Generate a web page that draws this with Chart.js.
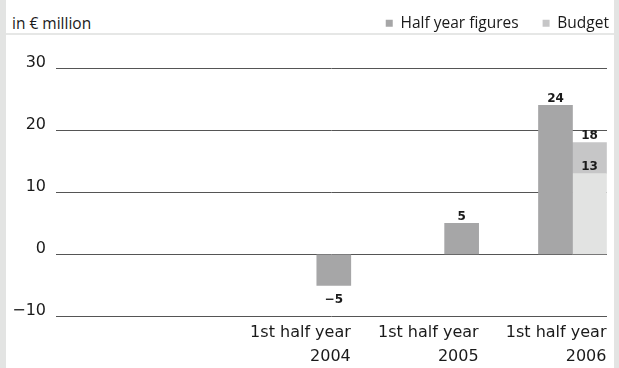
<!DOCTYPE html>
<html>
<head>
<meta charset="utf-8">
<title>Half year figures</title>
<script src="https://cdn.jsdelivr.net/npm/chart.js@4/dist/chart.umd.min.js"></script>
<style>
  body { margin: 0; background: #fff; }
  #frame { position: relative; width: 619px; height: 368px; background: #fff; overflow: hidden; }
  .strip { position: absolute; top: 0; bottom: 0; background: #e3e4e3; }
  #rule { position: absolute; left: 6px; right: 5px; top: 33px; height: 2px; background: #e6e7e6; }
  #unit { position: absolute; left: 12px; top: 12px; line-height: 20px;
          font: 15.5px "Open Sans", sans-serif; color: #1a1a1a; }
  canvas { position: absolute; left: 0; top: 0; }
</style>
</head>
<body>
<div id="frame">
  <div class="strip" style="left:0;width:6px"></div>
  <div class="strip" style="right:0;width:5px"></div>
  <div id="rule"></div>
  <div id="unit">in € million</div>
  <canvas id="halfYearChart" width="619" height="368"></canvas>
</div>
<script>
var categories = [['1st half year', '2004'], ['1st half year', '2005'], ['1st half year', '2006']];
var halfYear = [-5, 5, 24];
var budgetTotal = [null, null, 18];
var budgetBase = [null, null, 13];
var yTicks = [-10, 0, 10, 20, 30];

var barWidth = 34;
var textColor = '#1a1a1a';

function fmt(v) {
    return v < 0 ? '\u2212' + Math.abs(v) : String(v);
}
function points(values) {
    return values.map(function(v, i) { return { x: i, y: v }; });
}

// years with a budget get the actual bar on the left, the others sit in the budget slot
var actualLeft = halfYear.map(function(v, i) { return budgetTotal[i] != null ? v : null; });
var actualRight = halfYear.map(function(v, i) { return budgetTotal[i] == null ? v : null; });
var budgetTop = budgetTotal.map(function(v, i) { return v == null ? null : v - budgetBase[i]; });

// numbers printed at the end of each bar segment
var valueLabels = {
    id: 'valueLabels',
    afterDatasetsDraw: function(chart) {
        var ctx = chart.ctx;
        ctx.save();
        ctx.font = 'bold 12px "DejaVu Sans"';
        ctx.fillStyle = textColor;
        ctx.textAlign = 'center';
        ctx.textBaseline = 'alphabetic';
        chart.data.datasets.forEach(function(ds, di) {
            chart.getDatasetMeta(di).data.forEach(function(bar, i) {
                var v = ds.valueLabels[i];
                if (v == null) return;
                ctx.fillText(fmt(v), bar.x, v < 0 ? bar.y + 17.5 : bar.y - 3.5);
            });
        });
        ctx.restore();
    }
};

// move the legend row up into the header band, flush right
var legendInHeader = {
    id: 'legendInHeader',
    afterLayout: function(chart) {
        var lg = chart.legend;
        var pad = lg.options.labels.padding;
        var dx = (chart.width - 10 + pad) - lg.right;
        var dy = 15.5 - pad - lg.top;
        lg.left += dx; lg.right += dx;
        lg.top += dy; lg.bottom += dy;
    }
};

document.addEventListener('DOMContentLoaded', function() {
    Chart.defaults.font.family = '"DejaVu Sans"';
    Chart.defaults.color = textColor;

    var ctx = document.getElementById('halfYearChart').getContext('2d');
    var halfYearChart = new Chart(ctx, {
        type: 'bar',
        data: {
            datasets: [{
                    label: 'Half year figures',
                    data: points(actualLeft),
                    valueLabels: actualLeft,
                    backgroundColor: '#a6a6a7',
                    stack: 'actual'
                },
                {
                    label: 'Half year figures',
                    data: points(actualRight),
                    valueLabels: actualRight,
                    backgroundColor: '#a6a6a7',
                    stack: 'plan',
                    inLegend: false
                },
                {
                    label: 'Budget base',
                    data: points(budgetBase),
                    valueLabels: budgetBase,
                    backgroundColor: '#e2e3e2',
                    stack: 'plan',
                    inLegend: false
                },
                {
                    label: 'Budget',
                    data: points(budgetTop),
                    valueLabels: budgetTotal,
                    backgroundColor: '#c6c6c7',
                    stack: 'plan'
                }
            ]
        },
        options: {
            responsive: false,
            animation: false,
            barThickness: barWidth,
            layout: { padding: { left: 12, right: 12, top: 18.5, bottom: -4.5 } },
            plugins: {
                tooltip: { enabled: false },
                legend: {
                    position: 'top',
                    align: 'end',
                    labels: {
                        boxWidth: 7,
                        boxHeight: 7,
                        padding: 24,
                        color: textColor,
                        font: { family: '"Open Sans"', size: 15.5 },
                        filter: function(item, data) {
                            return data.datasets[item.datasetIndex].inLegend !== false;
                        }
                    }
                }
            },
            scales: {
                x: {
                    type: 'linear',
                    offset: false,
                    bounds: 'data',
                    min: -2.04,
                    max: 2.27,
                    grid: { display: false, drawTicks: false },
                    border: { display: false },
                    afterBuildTicks: function(axis) {
                        axis.ticks = categories.map(function(c, i) { return { value: i }; });
                    },
                    ticks: {
                        align: 'end',
                        labelOffset: barWidth,
                        padding: 4,
                        autoSkip: false,
                        maxRotation: 0,
                        font: { size: 16, lineHeight: 1.5 },
                        callback: function(v) { return categories[v]; }
                    }
                },
                y: {
                    stacked: true,
                    min: yTicks[0],
                    max: yTicks[yTicks.length - 1],
                    afterFit: function(axis) { axis.width = 44; },
                    grid: { color: '#555555', lineWidth: 1, drawTicks: false },
                    border: { display: false },
                    ticks: {
                        stepSize: yTicks[1] - yTicks[0],
                        padding: 10,
                        labelOffset: -5.5,
                        font: { size: 16 },
                        callback: function(v) { return fmt(v); }
                    }
                }
            }
        },
        plugins: [valueLabels, legendInHeader]
    });
});
</script>
</body>
</html>
